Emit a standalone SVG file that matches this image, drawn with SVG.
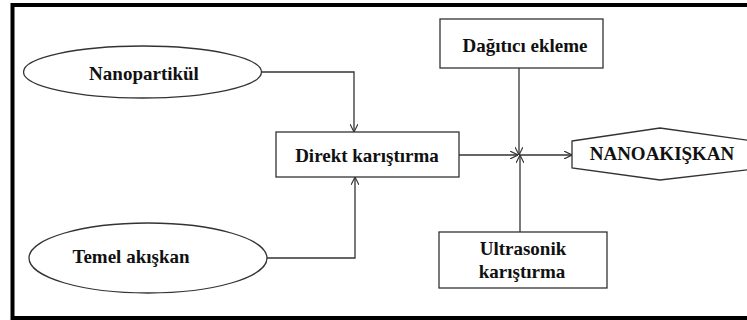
<svg xmlns="http://www.w3.org/2000/svg" width="747" height="320" viewBox="0 0 747 320">
<defs>
<style>
.sh{fill:#fff;stroke:#333;stroke-width:1.3}
.t{font-family:"Liberation Serif","Times New Roman",serif;font-weight:bold;font-size:19px;fill:#111;text-anchor:middle}
.c{fill:none;stroke:#333;stroke-width:1.3}
.frame{fill:none;stroke:#000;stroke-width:4}
</style>
<marker id="ah" viewBox="0 0 10 10" refX="10" refY="5" markerWidth="8" markerHeight="8" markerUnits="userSpaceOnUse" orient="auto">
<path d="M0,0 L10,5 L0,10" fill="none" stroke="#333" stroke-width="1.4"/>
</marker>
</defs>
<rect width="747" height="320" fill="#fff"/>
<path class="frame" d="M760,5 H12.5 V318 H760"/>
<g id="connectors">
<path class="c" d="M262,72 H354 V132" marker-end="url(#ah)"/>
<path class="c" d="M267,258 H355 V177" marker-end="url(#ah)"/>
<path class="c" d="M459,155 H518" marker-end="url(#ah)"/>
<path class="c" d="M519,155 H572" marker-end="url(#ah)"/>
<path class="c" d="M519,68 V155" marker-end="url(#ah)"/>
<path class="c" d="M520,232 V155" marker-end="url(#ah)"/>
</g>
<g id="nanopartikul">
<ellipse class="sh" cx="142.5" cy="72" rx="119" ry="26"/>
<text class="t" x="144" y="80">Nanopartikül</text>
</g>
<g id="temel">
<ellipse class="sh" cx="148" cy="258" rx="119" ry="35"/>
<text class="t" x="131" y="263">Temel akışkan</text>
</g>
<g id="direkt">
<rect class="sh" x="276" y="132" width="183" height="45"/>
<text class="t" x="367" y="162">Direkt karıştırma</text>
</g>
<g id="dagitici">
<rect class="sh" x="440" y="19" width="163" height="49"/>
<text class="t" x="525" y="52">Dağıtıcı ekleme</text>
</g>
<g id="ultrasonik">
<rect class="sh" x="439" y="232" width="168" height="56"/>
<text class="t" x="523" y="255">Ultrasonik</text>
<text class="t" x="522" y="278">karıştırma</text>
</g>
<g id="nanoakiskan">
<polygon class="sh" points="572,141 660,128 754,141 754,169 660,180 572,168"/>
<text class="t" x="662" y="160">NANOAKIŞKAN</text>
</g>
</svg>
